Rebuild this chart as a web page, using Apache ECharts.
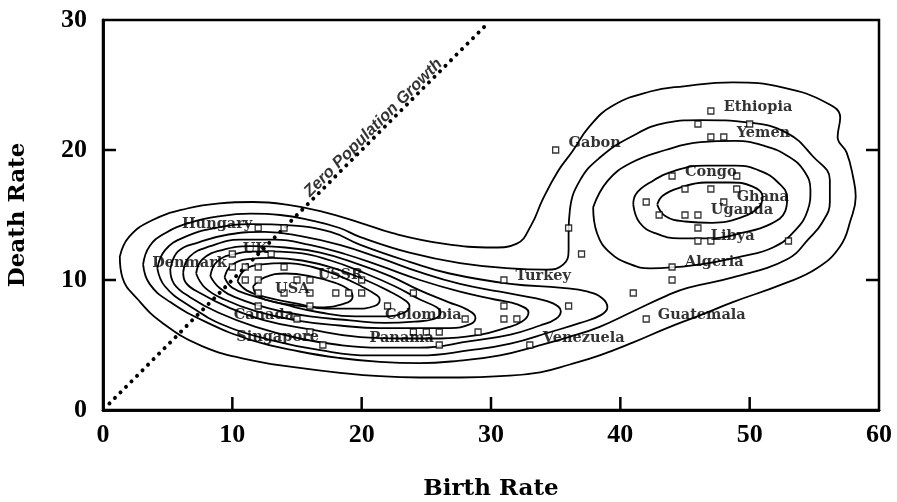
<!DOCTYPE html>
<html><head><meta charset="utf-8">
<script src="https://cdn.jsdelivr.net/npm/echarts@6/dist/echarts.min.js"></script>
<style>html,body{margin:0;padding:0;background:#fff}#c{width:897px;height:502px}</style>
</head><body><div id="c"></div>
<script>
// Observed countries (birth rate, death rate)
const birthRate = [12,14,10,13,10,11,12,14,11,12,15,16,20,12,14,16,18,19,20,24,12,16,22,15,28,31,31,32,16,24,25,26,29,17,26,33,31,35,36,37,36,41,42,44,44,47,46,50,47,48,44,49,45,47,49,48,42,43,45,46,46,46,47,53];
const deathRate = [14,14,12,12,11,11,11,11,10,10,10,10,10,9,9,9,9,9,9,9,8,8,8,7,7,8,7,7,6,6,6,6,6,5,5,5,10,20,14,12,8,9,7,11,10,23,22,22,21,21,18,18,17,17,17,16,16,15,15,15,14,13,13,13];

// Country labels: text, left edge (birth rate), vertical centre (death rate)
const labelNames = ['Hungary','UK','Denmark','USSR','USA','Canada','Singapore','Colombia','Panama','Venezuela','Turkey','Gabon','Guatemala','Algeria','Ethiopia','Yemen','Congo','Ghana','Uganda','Libya'];
const labelX = [6.1,10.8,3.8,16.6,13.3,10.1,10.3,21.8,20.6,34.0,31.9,36.0,42.9,45.0,48.0,49.0,45.0,49.0,47.0,47.0];
const labelY = [14.3,12.4,11.3,10.4,9.3,7.3,5.6,7.3,5.5,5.5,10.3,20.5,7.3,11.4,23.3,21.3,18.3,16.4,15.4,13.4];

// Zero population growth line (birth = death) and its caption
const zeroGrowth = [[0.5,0.5],[29.8,29.8]];
const zeroGrowthCaption = [20.9,21.7];

// Axis tick values
const xMin = 0, xMax = 60, xStep = 10;
const yMin = 0, yMax = 30, yStep = 10;
const xInnerTicks = [10,20,30,40,50];
const yInnerTicks = [10,20];

// Density contours (birth rate, death rate)
const contour1 = [[1.3,11.8],[2.0,13.3],[3.8,14.6],[6.5,15.5],[9.0,15.9],[11.6,16.0],[14.2,15.8],[16.8,15.3],[19.9,14.4],[22.4,13.6],[26.3,12.8],[30.2,12.5],[32.0,12.8],[33.1,14.2],[34.0,16.2],[35.2,18.4],[36.3,19.9],[37.6,21.8],[39.4,23.4],[42.3,24.5],[44.9,24.9],[48.7,25.2],[52.6,24.8],[56.0,23.6],[57.0,22.5],[56.8,21.0],[57.5,19.8],[58.0,17.9],[58.2,16.4],[57.8,14.6],[57.0,12.6],[55.2,10.9],[52.6,9.7],[48.7,8.3],[46.2,7.3],[43.6,6.3],[41.0,5.2],[38.4,4.2],[36.1,3.5],[33.8,2.9],[30.7,2.6],[27.6,2.5],[24.5,2.5],[21.4,2.6],[18.0,2.9],[15.5,3.2],[11.6,3.8],[7.7,4.9],[4.6,6.7],[2.7,8.5],[1.5,10.2],[1.3,11.8]];
const contour2 = [[3.1,11.2],[3.6,12.6],[4.8,13.6],[6.7,14.4],[9.0,14.9],[11.4,15.1],[13.7,15.0],[16.0,14.6],[18.3,14.0],[19.9,13.3],[23.7,12.1],[27.6,11.3],[31.5,10.9],[34.3,10.8],[35.6,11.2],[36.0,12.3],[36.0,13.6],[36.1,15.4],[36.9,17.7],[38.4,19.4],[40.8,21.0],[43.6,22.1],[46.2,22.3],[50.0,22.1],[52.9,21.3],[54.9,19.5],[56.2,17.7],[56.2,16.0],[55.6,14.4],[54.6,13.2],[52.9,11.6],[48.7,10.2],[45.2,9.4],[43.6,8.8],[41.0,7.6],[38.4,6.4],[36.0,5.6],[33.5,4.9],[30.7,4.2],[27.6,3.8],[24.5,3.6],[21.4,3.7],[18.3,4.0],[15.2,4.5],[11.4,5.4],[7.9,6.8],[5.2,8.3],[3.6,9.7],[3.1,11.2]];
const contour3 = [[4.2,10.9],[4.8,12.3],[6.3,13.3],[8.7,14.0],[11.4,14.3],[14.5,14.2],[17.6,13.7],[19.9,12.7],[23.7,11.4],[26.8,10.5],[31.5,9.7],[35.5,9.4],[37.5,9.1],[38.6,8.6],[39.0,7.9],[38.5,7.3],[36.9,6.7],[34.6,6.0],[31.5,5.1],[28.4,4.6],[24.5,4.2],[20.6,4.2],[16.8,4.6],[12.9,5.4],[9.4,6.5],[6.7,8.0],[4.8,9.5],[4.2,10.9]];
const contour4 = [[5.2,10.8],[5.8,12.2],[7.4,12.9],[9.7,13.5],[12.5,13.7],[15.2,13.4],[18.3,12.7],[21.4,11.7],[24.5,10.6],[27.6,9.7],[30.7,9.1],[33.4,8.6],[34.8,8.2],[35.4,7.6],[35.0,7.0],[33.8,6.5],[31.5,5.8],[28.4,5.3],[24.5,4.8],[21.4,4.8],[18.3,5.0],[15.2,5.5],[11.8,6.4],[8.9,7.5],[6.7,8.7],[5.5,9.7],[5.2,10.8]];
const contour5 = [[6.2,10.6],[6.7,11.8],[8.3,12.6],[10.6,13.1],[13.3,13.1],[16.0,12.7],[18.7,12.0],[21.4,11.1],[24.5,10.0],[27.6,9.1],[30.3,8.5],[32.1,8.1],[32.9,7.5],[32.4,6.8],[31.1,6.3],[29.2,5.8],[26.1,5.5],[23.0,5.5],[19.9,5.6],[16.0,6.2],[12.5,6.9],[9.7,7.9],[7.5,9.0],[6.4,9.8],[6.2,10.6]];
const contour6 = [[7.2,10.5],[7.7,11.6],[9.2,12.3],[11.4,12.6],[14.1,12.5],[16.8,12.1],[19.5,11.3],[22.2,10.3],[24.5,9.2],[26.7,8.3],[28.2,7.7],[28.8,7.1],[28.4,6.6],[26.8,6.3],[24.5,6.3],[21.4,6.3],[18.3,6.5],[14.9,6.9],[11.8,7.6],[9.4,8.5],[7.9,9.4],[7.2,10.5]];
const contour7 = [[8.3,10.3],[8.8,11.4],[10.2,12.0],[12.3,12.2],[14.9,12.1],[17.6,11.5],[20.3,10.5],[22.6,9.5],[24.5,8.5],[25.8,7.9],[26.1,7.5],[25.6,7.0],[24.1,6.8],[21.8,6.7],[19.1,6.9],[16.0,7.2],[12.9,7.8],[10.4,8.6],[9.0,9.4],[8.3,10.3]];
const contour8 = [[9.4,10.2],[9.9,11.1],[11.2,11.6],[13.1,11.7],[15.4,11.5],[17.9,10.9],[20.3,10.0],[22.2,9.1],[23.4,8.4],[23.7,8.0],[23.3,7.5],[21.8,7.2],[19.5,7.2],[16.8,7.5],[14.1,8.1],[11.5,8.8],[10.0,9.4],[9.4,10.2]];
const contour9 = [[10.4,9.9],[11.0,10.8],[12.3,11.2],[14.1,11.3],[16.2,11.0],[18.3,10.3],[20.0,9.5],[21.2,8.8],[21.4,8.5],[21.0,8.0],[19.5,7.8],[17.2,7.8],[14.9,8.2],[12.5,8.7],[11.1,9.2],[10.4,9.9]];
const contour10 = [[11.6,9.5],[12.5,10.2],[14.1,10.5],[16.0,10.3],[17.9,9.8],[19.1,9.2],[19.3,8.7],[18.7,8.2],[16.8,7.9],[14.5,8.1],[12.5,8.5],[11.8,9.0],[11.6,9.5]];
const contour11 = [[37.9,15.6],[38.2,13.6],[39.2,12.1],[40.8,11.2],[42.3,10.9],[46.2,11.2],[49.3,11.8],[51.8,12.5],[53.5,13.8],[54.5,15.4],[54.7,16.9],[54.2,18.4],[53.0,19.5],[51.2,20.3],[48.9,20.7],[46.2,20.6],[43.5,20.0],[40.8,19.0],[39.0,17.6],[37.9,15.6]];
const contour12 = [[41.0,15.8],[41.5,14.4],[42.7,13.6],[44.6,13.2],[46.9,13.2],[49.3,13.6],[51.6,14.3],[52.75,15.3],[52.9,16.3],[52.2,17.5],[50.8,18.4],[48.9,18.8],[46.6,18.8],[44.2,18.4],[42.3,17.5],[41.2,16.6],[41.0,15.8]];
const contour13 = [[42.85,15.8],[43.5,14.9],[45.0,14.5],[47.1,14.4],[49.3,14.8],[50.7,15.6],[51.0,16.4],[50.2,17.2],[48.5,17.5],[46.6,17.5],[44.6,17.1],[43.3,16.5],[42.85,15.8]];
const contours = [contour1,contour2,contour3,contour4,contour5,contour6,contour7,contour8,contour9,contour10,contour11,contour12,contour13];

const chart = echarts.init(document.getElementById('c'), null, {renderer: 'canvas'});
const tickFont = {fontFamily: 'Liberation Serif', fontWeight: 'bold', fontSize: 26, color: '#000'};
const nameFont = {fontFamily: 'DejaVu Serif', fontWeight: 'bold', fontSize: 23, color: '#000'};
const axisLineStyle = {show: true, lineStyle: {color: '#000', width: 2.5}};
const TICK_LEN = 13;

const series = [];
contours.forEach(function (c) {
  series.push({type: 'line', data: c, smooth: 0.45, symbol: 'none', silent: true, z: 2,
    lineStyle: {color: '#000', width: 1.8}});
});
series.push({type: 'line', data: zeroGrowth, symbol: 'none', silent: true, z: 3,
  lineStyle: {color: '#000', width: 4, type: [0.01, 7.8], cap: 'round'}});
series.push({type: 'scatter', data: [zeroGrowthCaption], symbolSize: 0, silent: true, z: 6,
  label: {show: true, position: 'inside', formatter: 'Zero Population Growth', rotate: 45,
    fontFamily: 'Liberation Sans', fontStyle: 'italic', fontWeight: 'bold', fontSize: 16.5, color: '#000'}});
series.push({type: 'scatter', data: birthRate.map(function (b, i) { return [b, deathRate[i]]; }),
  symbol: 'rect', symbolSize: 6, silent: true, z: 4,
  itemStyle: {color: '#fff', borderColor: '#000', borderWidth: 1.3}});
series.push({type: 'scatter', symbolSize: 0, silent: true, z: 5,
  data: labelNames.map(function (n, i) { return {name: n, value: [labelX[i], labelY[i]]}; }),
  label: {show: true, position: 'right', distance: 0, formatter: '{b}', verticalAlign: 'middle',
    fontFamily: 'DejaVu Serif', fontWeight: 'bold', fontSize: 14.5, color: '#000'}});

// Inward tick marks on bottom, left and right frame edges, positioned by the axes' scales
const tickData = []
  .concat(xInnerTicks.map(function (v) { return [v, yMin, 0]; }))
  .concat(yInnerTicks.map(function (v) { return [xMin, v, 1]; }))
  .concat(yInnerTicks.map(function (v) { return [xMax, v, 2]; }));
series.push({type: 'custom', data: tickData, silent: true, z: 7, clip: false,
  renderItem: function (params, api) {
    const p = api.coord([api.value(0), api.value(1)]);
    const side = api.value(2);
    let shape;
    if (side === 0) shape = {x1: p[0], y1: p[1], x2: p[0], y2: p[1] - TICK_LEN};
    else if (side === 1) shape = {x1: p[0], y1: p[1], x2: p[0] + TICK_LEN, y2: p[1]};
    else shape = {x1: p[0], y1: p[1], x2: p[0] - TICK_LEN, y2: p[1]};
    return {type: 'line', shape: shape, style: {stroke: '#000', lineWidth: 2.5}};
  }});

chart.setOption({
  animation: false,
  backgroundColor: '#fff',
  grid: {left: 103, right: 18, top: 20, bottom: 92, containLabel: false, outerBoundsMode: 'none',
    show: true, borderColor: '#000', borderWidth: 2.5, backgroundColor: 'transparent'},
  xAxis: [
    {type: 'value', min: xMin, max: xMax, interval: xStep, position: 'bottom',
      name: 'Birth Rate', nameLocation: 'middle', nameGap: 68, nameTextStyle: nameFont,
      axisLine: axisLineStyle, axisTick: {show: false},
      axisLabel: Object.assign({margin: 12}, tickFont), splitLine: {show: false}},
    {type: 'value', min: xMin, max: xMax, interval: xStep, position: 'top',
      axisLine: axisLineStyle, axisTick: {show: false}, axisLabel: {show: false}, splitLine: {show: false}}
  ],
  yAxis: [
    {type: 'value', min: yMin, max: yMax, interval: yStep, position: 'left',
      name: 'Death Rate', nameLocation: 'middle', nameGap: 73, nameTextStyle: nameFont,
      axisLine: axisLineStyle, axisTick: {show: false},
      axisLabel: Object.assign({margin: 16}, tickFont), splitLine: {show: false}},
    {type: 'value', min: yMin, max: yMax, interval: yStep, position: 'right',
      axisLine: axisLineStyle, axisTick: {show: false},
      axisLabel: {show: false}, splitLine: {show: false}}
  ],
  series: series
});
</script>
</body></html>
